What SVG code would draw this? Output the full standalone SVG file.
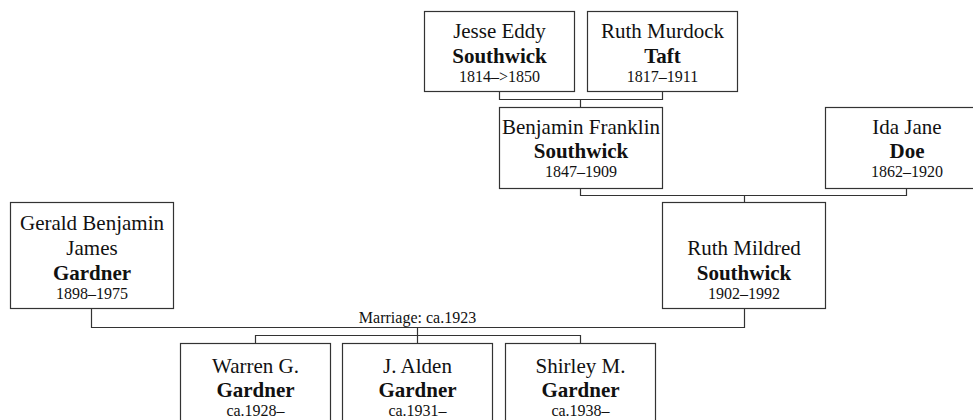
<svg xmlns="http://www.w3.org/2000/svg" width="973" height="420" viewBox="0 0 973 420">
<style>
.box{fill:#fff;stroke:#333;stroke-width:1.2}
.ln{fill:none;stroke:#333;stroke-width:1.2}
text{font-family:"Liberation Serif","Times New Roman",serif;text-anchor:middle;fill:#111}
.n{font-size:21px}
.s{font-size:21px;font-weight:bold}
.d{font-size:16px}
</style>
<rect width="973" height="420" fill="#fff"/>
<g id="connectors">
<path class="ln" d="M499.5 91.5V99.5H662.5V91.5M580.5 99.5V107.5"/>
<path class="ln" d="M580.5 188.5V195.5H906.5V188.5M744.5 195.5V202.5"/>
<path class="ln" d="M91.5 308.5V327.5H744.5V308.5M417.5 327.5V343.5"/>
<path class="ln" d="M255.5 343.5V335.5H580.5V343.5"/>
<text class="d" x="417.5" y="323">Marriage: ca.1923</text>
</g>
<g id="jesse">
<rect class="box" x="424.5" y="11.5" width="150" height="80"/>
<text class="n" x="499.5" y="38">Jesse Eddy</text>
<text class="s" x="499.5" y="63">Southwick</text>
<text class="d" x="499.5" y="82">1814–&gt;1850</text>
</g>
<g id="ruthmurdock">
<rect class="box" x="587.5" y="11.5" width="150" height="80"/>
<text class="n" x="662.5" y="38">Ruth Murdock</text>
<text class="s" x="662.5" y="63">Taft</text>
<text class="d" x="662.5" y="82">1817–1911</text>
</g>
<g id="benjamin">
<rect class="box" x="499.5" y="107.5" width="163" height="81"/>
<text class="n" x="581" y="133.5">Benjamin Franklin</text>
<text class="s" x="581" y="158">Southwick</text>
<text class="d" x="581" y="177">1847–1909</text>
</g>
<g id="ida">
<rect class="box" x="825.5" y="107.5" width="163" height="81"/>
<text class="n" x="907" y="133.5">Ida Jane</text>
<text class="s" x="907" y="158">Doe</text>
<text class="d" x="907" y="177">1862–1920</text>
</g>
<g id="gerald">
<rect class="box" x="10.5" y="202.5" width="163" height="106"/>
<text class="n" x="92" y="230">Gerald Benjamin</text>
<text class="n" x="92" y="254.5">James</text>
<text class="s" x="92" y="279.5">Gardner</text>
<text class="d" x="92" y="298.5">1898–1975</text>
</g>
<g id="ruthmildred">
<rect class="box" x="662.5" y="202.5" width="163" height="106"/>
<text class="n" x="744" y="254.5">Ruth Mildred</text>
<text class="s" x="744" y="279.5">Southwick</text>
<text class="d" x="744" y="298.5">1902–1992</text>
</g>
<g id="warren">
<rect class="box" x="180.5" y="343.5" width="150" height="90"/>
<text class="n" x="255.5" y="373">Warren G.</text>
<text class="s" x="255.5" y="397">Gardner</text>
<text class="d" x="255.5" y="415.5">ca.1928–</text>
</g>
<g id="alden">
<rect class="box" x="342.5" y="343.5" width="150" height="90"/>
<text class="n" x="417.5" y="373">J. Alden</text>
<text class="s" x="417.5" y="397">Gardner</text>
<text class="d" x="417.5" y="415.5">ca.1931–</text>
</g>
<g id="shirley">
<rect class="box" x="505.5" y="343.5" width="150" height="90"/>
<text class="n" x="580.5" y="373">Shirley M.</text>
<text class="s" x="580.5" y="397">Gardner</text>
<text class="d" x="580.5" y="415.5">ca.1938–</text>
</g>
</svg>
